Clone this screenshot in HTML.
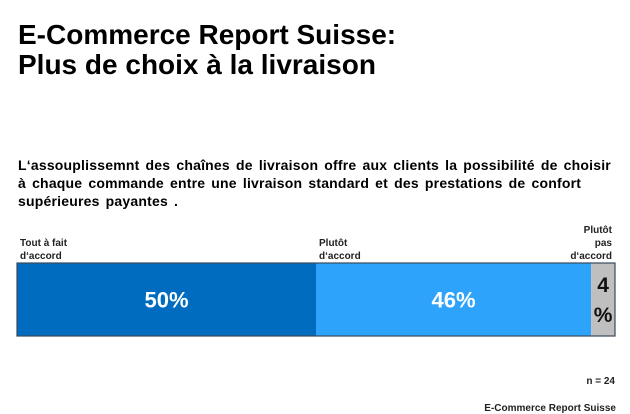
<!DOCTYPE html>
<html><head><meta charset="utf-8"><style>
body{margin:0;width:630px;height:412px;background:#fff;font-family:"Liberation Sans",Arial,sans-serif;position:relative;overflow:hidden}
.t{position:absolute;left:18px;top:20px;font-size:28px;font-weight:bold;line-height:30px;color:#000}
.sub{position:absolute;left:18px;top:156px;font-size:14px;font-weight:bold;line-height:18px;letter-spacing:0.2px;word-spacing:2px;width:600px}
.foot{position:absolute;font-size:10px;font-weight:bold;color:#222}
</style></head><body>
<div class="t">E-Commerce Report Suisse:<br>Plus de choix à la livraison</div>
<div class="sub">L‘assouplissemnt des chaînes de livraison offre aux clients la possibilité de choisir à chaque commande entre une livraison standard et des prestations de confort supérieures payantes .</div>
<svg id="c" width="630" height="412" style="position:absolute;left:0;top:0"></svg>
<div class="foot" style="right:15px;top:376px">n = 24</div>
<div class="foot" style="right:14px;top:403px">E-Commerce  Report  Suisse</div>
<script>
const categories=["Tout à fait|d‘accord","Plutôt|d‘accord","Plutôt|pas|d‘accord"];
const values=[50,46,4];
const colors=["#006cc0","#2ea3fb","#bfbfbf"];
const svg=document.getElementById('c');
const NS="http://www.w3.org/2000/svg";
const x0=17,x1=615,y0=263,y1=336;
const total=values.reduce((a,b)=>a+b,0);
const sx=v=>x0+(x1-x0)*v/total;
let acc=0;
values.forEach((v,i)=>{
 const a=sx(acc),b=sx(acc+v);acc+=v;
 const r=document.createElementNS(NS,'rect');
 r.setAttribute('x',a);r.setAttribute('y',y0);r.setAttribute('width',b-a);r.setAttribute('height',y1-y0);r.setAttribute('fill',colors[i]);
 
 
 svg.appendChild(r);
 const w=b-a,cx=(a+b)/2;
 if(w>40){
  const t=document.createElementNS(NS,'text');
  t.setAttribute('x',cx);t.setAttribute('y',(y0+y1)/2+8);t.setAttribute('text-anchor','middle');
  t.setAttribute('font-size','22');t.setAttribute('font-weight','bold');t.setAttribute('fill','#fff');
  t.setAttribute('font-family','Liberation Sans, sans-serif');t.textContent=v+'%';
  
  
  svg.appendChild(t);
 } else {
  [v,'%'].forEach((s,k)=>{
   const t=document.createElementNS(NS,'text');
   t.setAttribute('x',cx);t.setAttribute('y',y0+29+k*30);t.setAttribute('text-anchor','middle');
   t.setAttribute('font-size','21');t.setAttribute('font-weight','bold');t.setAttribute('fill','#111');
   t.setAttribute('font-family','Liberation Sans, sans-serif');t.textContent=s;
   
   
   svg.appendChild(t);
  });
 }
 const lines=categories[i].split('|');
 const lx=i==values.length-1?b-3:a+3;
 lines.forEach((s,k)=>{
  const t=document.createElementNS(NS,'text');
  t.setAttribute('x',lx);t.setAttribute('y',y0-4-(lines.length-1-k)*13);
  t.setAttribute('text-anchor',i==values.length-1?'end':'start');
  t.setAttribute('font-size','10');t.setAttribute('font-weight','bold');t.setAttribute('fill','#222');
  t.setAttribute('font-family','Liberation Sans, sans-serif');t.textContent=s;
  
  
  svg.appendChild(t);
 });
});
const o=document.createElementNS(NS,'rect');
o.setAttribute('x',x0);o.setAttribute('y',y0);o.setAttribute('width',x1-x0);o.setAttribute('height',y1-y0);
o.setAttribute('fill','none');o.setAttribute('stroke','#3a4a5a');o.setAttribute('stroke-width','1.2');


svg.appendChild(o);
</script>
</body></html>
